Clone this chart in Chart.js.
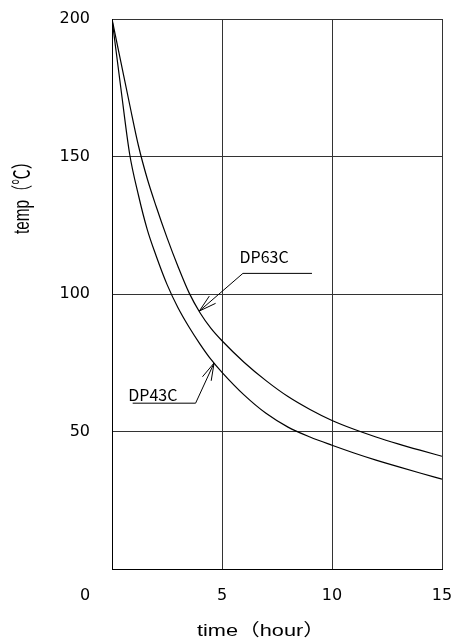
<!DOCTYPE html>
<html>
<head>
<meta charset="utf-8">
<script src="https://cdn.jsdelivr.net/npm/chart.js@4.4.0/dist/chart.umd.min.js"></script>
<style>
  html, body { margin: 0; padding: 0; background: #fff; }
  canvas { display: block; }
</style>
</head>
<body>
<canvas id="tempChart" width="460" height="644"></canvas>
<script>
// values
var hours = [0, 0.4, 0.8, 1.2, 1.6, 2, 2.5, 3, 3.5, 4, 4.5, 5, 6, 7, 8, 9, 10, 11, 12, 13, 14, 15];
var dp63c = [200, 184.5, 169, 154, 142, 132, 120.5, 110, 100.5, 93.2, 87.5, 83, 75.2, 68.5, 62.7, 58, 54, 50.8, 48, 45.5, 43.2, 41];
var dp43c = [200, 175, 151, 136, 123.5, 114, 103.5, 95, 88, 81.8, 76.2, 71.5, 63.3, 56.6, 51.6, 48, 45, 42.2, 39.6, 37.2, 34.9, 32.7];
var seriesNames = ['DP63C', 'DP43C'];
var xTicks = [0, 5, 10, 15];
var yTicks = [0, 50, 100, 150, 200];

function toPoints(ys) {
    return hours.map(function (h, i) { return { x: h, y: ys[i] }; });
}

// leader lines with open arrow heads, in data units
var callouts = [
    { text: seriesNames[0], tx: 5.8, ty: 111.2, path: [[9.09, 107.5], [5.95, 107.5], [3.97, 93.8]] },
    { text: seriesNames[1], tx: 0.74, ty: 61.2, path: [[0.94, 60.3], [3.8, 60.3], [4.64, 74.9]] }
];

// draw text squeezed or stretched to a given length
function fitText(ctx, text, x, y, len) {
    var w = ctx.measureText(text).width;
    ctx.save();
    ctx.translate(x, y);
    ctx.scale(len / w, 1);
    ctx.fillText(text, 0, 0);
    ctx.restore();
}

// keep tick labels from pushing the plot area in
function noScalePadding(s) {
    s.paddingTop = 0;
    s.paddingBottom = 0;
    s.paddingLeft = 0;
    s.paddingRight = 0;
}

var extrasPlugin = {
    id: 'extras',
    afterDraw: function (chart) {
        var ctx = chart.ctx;
        var xs = chart.scales.x, ys = chart.scales.y;
        ctx.save();
        ctx.fillStyle = '#000';
        ctx.strokeStyle = '#000';
        ctx.lineWidth = 1;

        callouts.forEach(function (c) {
            var pts = c.path.map(function (p) {
                return [xs.getPixelForValue(p[0]), ys.getPixelForValue(p[1])];
            });
            ctx.beginPath();
            ctx.moveTo(pts[0][0], pts[0][1]);
            for (var i = 1; i < pts.length; i++) ctx.lineTo(pts[i][0], pts[i][1]);
            ctx.stroke();
            var tip = pts[pts.length - 1], prev = pts[pts.length - 2];
            var ang = Math.atan2(prev[1] - tip[1], prev[0] - tip[0]);
            [-0.27, 0.27].forEach(function (d) {
                ctx.beginPath();
                ctx.moveTo(tip[0], tip[1]);
                ctx.lineTo(tip[0] + 18 * Math.cos(ang + d), tip[1] + 18 * Math.sin(ang + d));
                ctx.stroke();
            });
            ctx.font = '16px "Noto Sans CJK SC"';
            ctx.textAlign = 'left';
            ctx.textBaseline = 'alphabetic';
            ctx.fillText(c.text, xs.getPixelForValue(c.tx), ys.getPixelForValue(c.ty));
        });

        // origin label
        ctx.font = '16px "DejaVu Sans"';
        ctx.textAlign = 'center';
        ctx.textBaseline = 'middle';
        ctx.fillText(String(xTicks[0]), chart.chartArea.left - 27, 596);

        // axis titles
        ctx.textAlign = 'left';
        ctx.textBaseline = 'alphabetic';
        ctx.font = '17px "Liberation Sans", "Noto Sans CJK SC"';
        fitText(ctx, 'time（hour）', 197, 636, 128);

        ctx.translate(29, 234);
        ctx.rotate(-Math.PI / 2);
        ctx.font = '22px "Liberation Sans", "Noto Sans CJK SC"';
        fitText(ctx, 'temp（℃）', 0, 0, 80);
        ctx.restore();
    }
};

function createTempChart() {
    var ctx = document.getElementById('tempChart').getContext('2d');
    var lineStyle = {
        borderColor: '#000',
        borderWidth: 1.2,
        pointRadius: 0,
        fill: false,
        cubicInterpolationMode: 'monotone'
    };
    new Chart(ctx, {
        type: 'line',
        data: {
            datasets: [
                Object.assign({ label: seriesNames[0], data: toPoints(dp63c) }, lineStyle),
                Object.assign({ label: seriesNames[1], data: toPoints(dp43c) }, lineStyle)
            ]
        },
        options: {
            responsive: false,
            animation: false,
            devicePixelRatio: 1,
            layout: { padding: { left: 0, right: 18, top: 19, bottom: 0 } },
            plugins: {
                legend: { display: false },
                tooltip: { enabled: false }
            },
            scales: {
                x: {
                    type: 'linear',
                    min: 0,
                    max: 15,
                    afterBuildTicks: function (s) { s.ticks = xTicks.map(function (v) { return { value: v }; }); },
                    afterFit: function (s) { s.height = 75; noScalePadding(s); },
                    ticks: {
                        padding: 17,
                        color: '#000',
                        font: { family: 'DejaVu Sans', size: 16 },
                        maxRotation: 0,
                        callback: function (v) { return v === 0 ? '' : v; }
                    },
                    grid: { color: '#333', lineWidth: 1, drawTicks: false },
                    border: { color: '#000', width: 1 }
                },
                y: {
                    min: 0,
                    max: 200,
                    afterBuildTicks: function (s) { s.ticks = yTicks.map(function (v) { return { value: v }; }); },
                    afterFit: function (s) { s.width = 112; noScalePadding(s); },
                    ticks: {
                        padding: 22,
                        color: '#000',
                        font: { family: 'DejaVu Sans', size: 16 },
                        callback: function (v) { return v === 0 ? '' : v; }
                    },
                    grid: { color: '#333', lineWidth: 1, drawTicks: false },
                    border: { color: '#000', width: 1 }
                }
            }
        },
        plugins: [extrasPlugin]
    });
}

createTempChart();
</script>
</body>
</html>
